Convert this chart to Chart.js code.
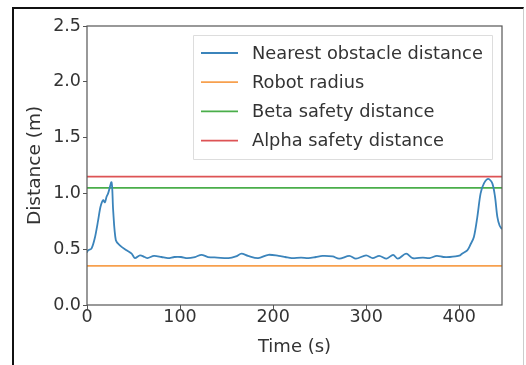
<!DOCTYPE html>
<html>
<head>
<meta charset="utf-8">
<script src="https://cdn.jsdelivr.net/npm/chart.js@4/dist/chart.umd.min.js"></script>
<style>
  html, body { margin: 0; padding: 0; background: #fff; }
  #wrap { position: relative; width: 526px; height: 365px; overflow: hidden; }
  #frame { position: absolute; left: 12px; top: 7px; width: 509px; height: 400px;
           border-left: 2px solid #111; border-top: 2px solid #111; border-right: 1px solid #ccc; }
  canvas { position: absolute; left: 0; top: 0; }
</style>
</head>
<body>
<div id="wrap">
  <div id="frame"></div>
  <canvas id="myChart" width="526" height="365"></canvas>
</div>
<script>
// time (s) and nearest obstacle distance (m)
const tiempos = [0, 1.2, 4.8, 8.4, 12, 14.5, 17.3, 19.2, 21, 22.7, 26.4, 28.1, 31, 35.3, 42.5, 48, 51.5, 57, 62, 65, 72, 80, 87, 94, 101, 108, 116, 123, 130, 140, 152, 160, 166, 173, 184, 195, 206, 213, 220, 230, 238, 246, 253, 264, 271, 282, 289, 300, 307, 314, 322, 329, 334, 343, 350, 361, 368, 376, 383, 390, 396, 401, 403, 408.7, 412, 415.8, 419.5, 423, 426.6, 431.3, 435.6, 438.5, 441, 443.5, 446];
const distancias = [0.47, 0.49, 0.505, 0.6, 0.76, 0.88, 0.94, 0.92, 0.97, 1.0, 1.1, 0.85, 0.58, 0.535, 0.49, 0.46, 0.42, 0.445, 0.43, 0.42, 0.44, 0.43, 0.42, 0.43, 0.43, 0.42, 0.43, 0.45, 0.43, 0.425, 0.42, 0.435, 0.46, 0.44, 0.42, 0.45, 0.44, 0.43, 0.42, 0.425, 0.42, 0.43, 0.44, 0.435, 0.415, 0.44, 0.415, 0.445, 0.42, 0.44, 0.415, 0.45, 0.415, 0.46, 0.42, 0.425, 0.42, 0.44, 0.43, 0.43, 0.435, 0.445, 0.46, 0.49, 0.54, 0.61, 0.79, 1.0, 1.09, 1.13, 1.09, 0.97, 0.79, 0.71, 0.68];

const radioRobot = 0.35;
const distBeta = 1.05;
const distAlpha = 1.15;

const tMin = 0, tMax = 446;
const ticksX = [0, 100, 200, 300, 400];
const ticksY = [0, 0.5, 1.0, 1.5, 2.0, 2.5];

const nombres = ['Nearest obstacle distance', 'Robot radius', 'Beta safety distance', 'Alpha safety distance'];
const colores = ['#3b84bb', '#f7a04e', '#4aae4a', '#dd5355'];

const puntos = tiempos.map((t, i) => ({ x: t, y: distancias[i] }));
function lineaH(v) { return [{ x: tMin, y: v }, { x: tMax, y: v }]; }

const fuente = 'DejaVu Sans';
const gris = '#333';

// legend drawn inside the plot, top right, like matplotlib
const leyendaDentro = {
  id: 'leyendaDentro',
  afterDraw(chart) {
    const ctx = chart.ctx;
    const a = chart.chartArea;
    const x0 = a.left + 106, y0 = a.top + 9, w = 299, h = 124;
    ctx.save();
    ctx.fillStyle = 'rgba(255,255,255,0.85)';
    ctx.strokeStyle = '#ddd';
    ctx.lineWidth = 1;
    ctx.beginPath();
    ctx.rect(x0 + 0.5, y0 + 0.5, w, h);
    ctx.fill();
    ctx.stroke();
    ctx.font = '17.8px ' + fuente;
    ctx.textBaseline = 'middle';
    chart.data.datasets.forEach((ds, i) => {
      const y = y0 + 18 + i * 29.2;
      ctx.strokeStyle = ds.borderColor;
      ctx.lineWidth = 1.8;
      ctx.beginPath();
      ctx.moveTo(x0 + 8, y);
      ctx.lineTo(x0 + 45, y);
      ctx.stroke();
      ctx.fillStyle = gris;
      ctx.fillText(ds.label, x0 + 59, y + 1);
    });
    // plot frame
    ctx.strokeStyle = '#555';
    ctx.lineWidth = 1.2;
    ctx.strokeRect(a.left, a.top, a.right - a.left, a.bottom - a.top);
    ctx.restore();
  }
};

new Chart(document.getElementById('myChart'), {
  type: 'line',
  data: {
    datasets: [
      { label: nombres[0], data: puntos, borderColor: colores[0], borderWidth: 1.8, tension: 0.3 },
      { label: nombres[1], data: lineaH(radioRobot), borderColor: colores[1], borderWidth: 1.8 },
      { label: nombres[2], data: lineaH(distBeta), borderColor: colores[2], borderWidth: 1.8 },
      { label: nombres[3], data: lineaH(distAlpha), borderColor: colores[3], borderWidth: 1.8 }
    ]
  },
  options: {
    responsive: false,
    animation: false,
    parsing: false,
    elements: { point: { radius: 0 } },
    layout: { padding: { left: 24, top: 26, right: 24, bottom: 7 } },
    plugins: { legend: { display: false }, tooltip: { enabled: false } },
    scales: {
      x: {
        type: 'linear',
        min: tMin,
        max: tMax,
        afterBuildTicks: (s) => { s.ticks = ticksX.map(v => ({ value: v })); },
        afterFit: (s) => { s.height = 53; },
        grid: { drawOnChartArea: false, drawTicks: true, tickLength: 4, color: '#555' },
        border: { display: false },
        ticks: { color: gris, font: { family: fuente, size: 17.5 }, padding: -2, maxRotation: 0 },
        title: { display: true, text: 'Time (s)', color: gris, font: { family: fuente, size: 18 }, padding: 0 }
      },
      y: {
        min: 0,
        max: 2.5,
        afterBuildTicks: (s) => { s.ticks = ticksY.map(v => ({ value: v })); },
        afterFit: (s) => { s.width = 63; },
        grid: { drawOnChartArea: false, drawTicks: true, tickLength: 4, color: '#555' },
        border: { display: false },
        ticks: { color: gris, font: { family: fuente, size: 17.5 }, padding: 2, callback: (v) => v.toFixed(1) },
        title: { display: true, text: 'Distance (m)', color: gris, font: { family: fuente, size: 18.5 }, padding: 0 }
      }
    }
  },
  plugins: [leyendaDentro]
});
</script>
</body>
</html>
